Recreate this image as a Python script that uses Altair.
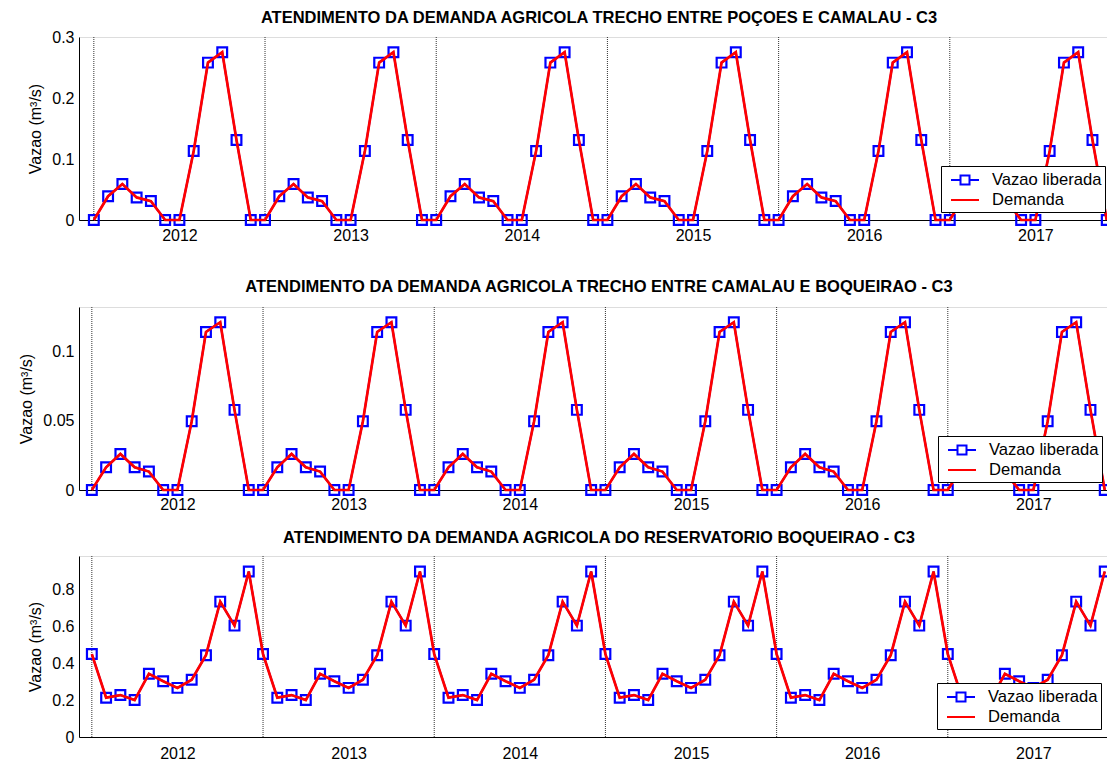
import altair as alt
import pandas as pd

# ---------------- data ----------------
years = [2012, 2013, 2014, 2015, 2016, 2017]
months = list(range(72))            # month index, 0 = Jan 2012
year_starts = [0, 12, 24, 36, 48, 60]
label_pos = [6, 18, 30, 42, 54, 66]
series_names = ["Vazao liberada", "Demanda"]

titles = [
    "ATENDIMENTO DA DEMANDA AGRICOLA TRECHO ENTRE POÇOES E CAMALAU - C3",
    "ATENDIMENTO DA DEMANDA AGRICOLA TRECHO ENTRE CAMALAU E BOQUEIRAO - C3",
    "ATENDIMENTO DA DEMANDA AGRICOLA DO RESERVATORIO BOQUEIRAO - C3",
]

vazao_c1 = [
    0, 0.039, 0.059, 0.037, 0.031, 0, 0, 0.113, 0.258, 0.275, 0.131, 0,
    0, 0.039, 0.059, 0.037, 0.031, 0, 0, 0.113, 0.258, 0.275, 0.131, 0,
    0, 0.039, 0.059, 0.037, 0.031, 0, 0, 0.113, 0.258, 0.275, 0.131, 0,
    0, 0.039, 0.059, 0.037, 0.031, 0, 0, 0.113, 0.258, 0.275, 0.131, 0,
    0, 0.039, 0.059, 0.037, 0.031, 0, 0, 0.113, 0.258, 0.275, 0.131, 0,
    0, 0.039, 0.059, 0.037, 0.031, 0, 0, 0.113, 0.258, 0.275, 0.131, 0,
]
demanda_c1 = [
    0, 0.039, 0.059, 0.037, 0.031, 0, 0, 0.113, 0.258, 0.275, 0.131, 0,
    0, 0.039, 0.059, 0.037, 0.031, 0, 0, 0.113, 0.258, 0.275, 0.131, 0,
    0, 0.039, 0.059, 0.037, 0.031, 0, 0, 0.113, 0.258, 0.275, 0.131, 0,
    0, 0.039, 0.059, 0.037, 0.031, 0, 0, 0.113, 0.258, 0.275, 0.131, 0,
    0, 0.039, 0.059, 0.037, 0.031, 0, 0, 0.113, 0.258, 0.275, 0.131, 0,
    0, 0.039, 0.059, 0.037, 0.031, 0, 0, 0.113, 0.258, 0.275, 0.131, 0,
]
vazao_c2 = [
    0, 0.0164, 0.026, 0.0164, 0.0133, 0, 0, 0.0496, 0.114, 0.121, 0.0578, 0,
    0, 0.0164, 0.026, 0.0164, 0.0133, 0, 0, 0.0496, 0.114, 0.121, 0.0578, 0,
    0, 0.0164, 0.026, 0.0164, 0.0133, 0, 0, 0.0496, 0.114, 0.121, 0.0578, 0,
    0, 0.0164, 0.026, 0.0164, 0.0133, 0, 0, 0.0496, 0.114, 0.121, 0.0578, 0,
    0, 0.0164, 0.026, 0.0164, 0.0133, 0, 0, 0.0496, 0.114, 0.121, 0.0578, 0,
    0, 0.0164, 0.026, 0.0164, 0.0133, 0, 0, 0.0496, 0.114, 0.121, 0.0578, 0,
]
demanda_c2 = [
    0, 0.0164, 0.026, 0.0164, 0.0133, 0, 0, 0.0496, 0.114, 0.121, 0.0578, 0,
    0, 0.0164, 0.026, 0.0164, 0.0133, 0, 0, 0.0496, 0.114, 0.121, 0.0578, 0,
    0, 0.0164, 0.026, 0.0164, 0.0133, 0, 0, 0.0496, 0.114, 0.121, 0.0578, 0,
    0, 0.0164, 0.026, 0.0164, 0.0133, 0, 0, 0.0496, 0.114, 0.121, 0.0578, 0,
    0, 0.0164, 0.026, 0.0164, 0.0133, 0, 0, 0.0496, 0.114, 0.121, 0.0578, 0,
    0, 0.0164, 0.026, 0.0164, 0.0133, 0, 0, 0.0496, 0.114, 0.121, 0.0578, 0,
]
vazao_c3 = [
    0.449, 0.213, 0.227, 0.200, 0.342, 0.302, 0.266, 0.310, 0.443, 0.733, 0.603, 0.896,
    0.449, 0.213, 0.227, 0.200, 0.342, 0.302, 0.266, 0.310, 0.443, 0.733, 0.603, 0.896,
    0.449, 0.213, 0.227, 0.200, 0.342, 0.302, 0.266, 0.310, 0.443, 0.733, 0.603, 0.896,
    0.449, 0.213, 0.227, 0.200, 0.342, 0.302, 0.266, 0.310, 0.443, 0.733, 0.603, 0.896,
    0.449, 0.213, 0.227, 0.200, 0.342, 0.302, 0.266, 0.310, 0.443, 0.733, 0.603, 0.896,
    0.449, 0.213, 0.227, 0.200, 0.342, 0.302, 0.266, 0.310, 0.443, 0.733, 0.603, 0.896,
]
demanda_c3 = [
    0.449, 0.213, 0.227, 0.200, 0.342, 0.302, 0.266, 0.310, 0.443, 0.733, 0.603, 0.896,
    0.449, 0.213, 0.227, 0.200, 0.342, 0.302, 0.266, 0.310, 0.443, 0.733, 0.603, 0.896,
    0.449, 0.213, 0.227, 0.200, 0.342, 0.302, 0.266, 0.310, 0.443, 0.733, 0.603, 0.896,
    0.449, 0.213, 0.227, 0.200, 0.342, 0.302, 0.266, 0.310, 0.443, 0.733, 0.603, 0.896,
    0.449, 0.213, 0.227, 0.200, 0.342, 0.302, 0.266, 0.310, 0.443, 0.733, 0.603, 0.896,
    0.449, 0.213, 0.227, 0.200, 0.342, 0.302, 0.266, 0.310, 0.443, 0.733, 0.603, 0.896,
]

y_domains = [[0, 0.3], [0, 0.132], [0, 0.98]]
y_ticks = [[0, 0.1, 0.2, 0.3], [0, 0.05, 0.1], [0, 0.2, 0.4, 0.6, 0.8]]
x_domains = [[-1.04, 71.86], [-0.9, 72.0], [-0.9, 72.0]]

# ---------------- style ----------------
FONT = "Liberation Sans"
BLUE = "#0000FF"
RED = "#FF0000"
PLOT_W = 1040

year_expr = "[" + ",".join("'%d'" % y for y in years) + "][floor(datum.value / 12)]"

path_vazao = "M-1.4,0H-0.45M0.45,0H1.4M-0.45,-0.45H0.45V0.45H-0.45Z"
path_demanda = "M-1.4,0H1.4"


def panel(title, vazao, demanda, ydom, yvals, xdom, title_offset,
          label_pad, x_title, legend_x, plot_h):
    df = pd.DataFrame({"mes": months, "vazao": vazao, "demanda": demanda})
    grid_df = pd.DataFrame({"mes": year_starts})
    leg_df = pd.DataFrame({"serie": series_names})

    axis_kw = dict(
        values=label_pos, labelExpr=year_expr, ticks=False, grid=False,
        labelFontSize=16, labelFont=FONT, labelColor="black", labelPadding=label_pad,
        domainColor="black", labelFlush=False,
    )
    if x_title:
        axis_kw.update(title=" ", titleFontSize=14, titlePadding=4)
    else:
        axis_kw.update(title=None)
    x = alt.X("mes:Q", scale=alt.Scale(domain=xdom, nice=False, zero=False),
              axis=alt.Axis(**axis_kw))
    yaxis = alt.Axis(
        values=yvals, format="~g", ticks=False, grid=False,
        labelFontSize=16, labelFont=FONT, labelColor="black", labelPadding=5,
        domainColor="black",
        title="Vazao (m³/s)", titleFontSize=16, titleFont=FONT,
        titleFontWeight="normal", titleColor="black", titlePadding=8,
    )
    yscale = alt.Scale(domain=ydom, nice=False, zero=True)

    grid = alt.Chart(grid_df).mark_rule(
        color="#333333", strokeWidth=1, strokeDash=[1, 1]
    ).encode(x=x)

    blue_line = alt.Chart(df).mark_line(color=BLUE, strokeWidth=2).encode(
        x=x, y=alt.Y("vazao:Q", scale=yscale, axis=yaxis)
    )
    blue_pts = alt.Chart(df).mark_point(
        shape="square", filled=False, color=BLUE, size=95, strokeWidth=2.2, opacity=1
    ).encode(x=x, y=alt.Y("vazao:Q", scale=yscale, axis=yaxis))
    red_line = alt.Chart(df).mark_line(color=RED, strokeWidth=2.7).encode(
        x=x, y=alt.Y("demanda:Q", scale=yscale, axis=yaxis)
    )

    leg = alt.Legend(
        orient="none", legendX=legend_x, legendY=plot_h - 54, title=None,
        labelFontSize=16.6, labelFont=FONT, labelColor="black",
        symbolSize=400, symbolStrokeWidth=2, symbolOffset=10, labelOffset=16,
        symbolFillColor="transparent",
        padding=3, rowPadding=0, fillColor="white", strokeColor="black",
    )
    legend_layer = alt.Chart(leg_df).mark_point(filled=False, strokeWidth=2, opacity=1).encode(
        color=alt.Color("serie:N", scale=alt.Scale(domain=series_names, range=[BLUE, RED]), legend=leg),
        shape=alt.Shape("serie:N", scale=alt.Scale(domain=series_names, range=[path_vazao, path_demanda]), legend=leg),
    ).transform_filter("false")

    return alt.layer(grid, blue_line, blue_pts, red_line, legend_layer).properties(
        width=PLOT_W, height=plot_h,
        title=alt.TitleParams(title, font=FONT, fontSize=16.5, fontWeight="bold",
                              color="black", anchor="middle", offset=title_offset),
    )


p1 = panel(titles[0], vazao_c1, demanda_c1, y_domains[0], y_ticks[0], x_domains[0], 3, 7, True, 862, 183)
p2 = panel(titles[1], vazao_c2, demanda_c2, y_domains[1], y_ticks[1], x_domains[1], 11, 6, False, 859, 183)
p3 = panel(titles[2], vazao_c3, demanda_c3, y_domains[2], y_ticks[2], x_domains[2], 9, 8, False, 858, 181)

chart = alt.vconcat(p1, p2, p3, spacing=16).resolve_scale(
    color="independent", shape="independent", x="independent", y="independent"
).resolve_legend(color="independent", shape="independent").configure_view(
    stroke="black", strokeWidth=1
).configure(background="white",
            padding={"top": 1, "left": 10, "right": -13, "bottom": 0})

chart.save("out.html", embed_options={"renderer": "svg", "actions": False})
